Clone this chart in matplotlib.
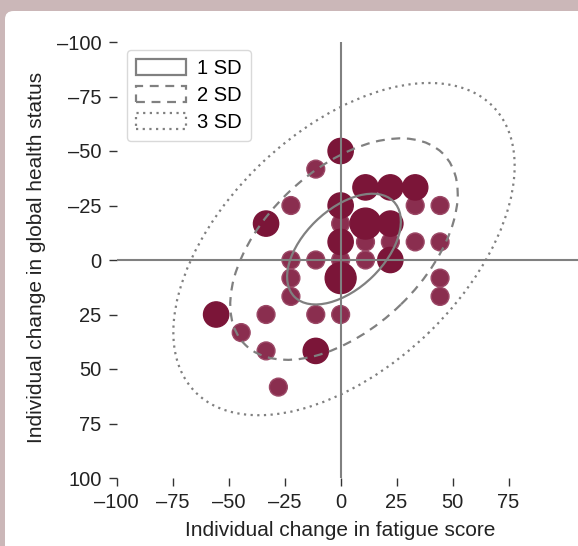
import numpy as np
import matplotlib
matplotlib.use("Agg")
import matplotlib.pyplot as plt
from matplotlib.patches import Ellipse, Patch, FancyBboxPatch

plt.rcParams['font.family'] = ['Liberation Sans', 'DejaVu Sans']

# change in fatigue score (x), change in global health status (y), number of patients at that point
fatigue = [0, -11.1, 11.1, 22.2, 33.3, -33.3, -22.2, 0, 33.3, 44.4,
           0, 11.1, 22.2, 0, 11.1, 22.2, 33.3, 44.4, -22.2, -11.1,
           0, 11.1, 22.2, 0, -22.2, -22.2, 44.4, 44.4, -55.6, -33.3,
           -11.1, 0, -44.4, -33.3, -11.1, -27.8]
health = [-50, -41.7, -33.3, -33.3, -33.3, -16.7, -25, -25, -25, -25,
          -16.7, -16.7, -16.7, -8.3, -8.3, -8.3, -8.3, -8.3, 0, 0,
          0, 0, 0, 8.3, 8.3, 16.7, 8.3, 16.7, 25, 25,
          25, 25, 33.3, 41.7, 41.7, 58.3]
counts = [2, 1, 2, 2, 2, 2, 1, 2, 1, 1,
          1, 3, 2, 2, 1, 1, 1, 1, 1, 1,
          1, 1, 2, 3, 1, 1, 1, 1, 2, 1,
          1, 1, 1, 1, 2, 1]

# bivariate normal summary used for the SD ellipses
mean_x, mean_y = 1.5, -5.0
sd_x, sd_y = 25.4, 25.4
rho = -0.5
sd_levels = [1, 2, 3]
sd_labels = ['1 SD', '2 SD', '3 SD']
sd_styles = ['-', (0, (4, 3)), (0, (1, 2))]

xticks = [-100, -75, -50, -25, 0, 25, 50, 75]
yticks = [-100, -75, -50, -25, 0, 25, 50, 75, 100]

grey = '#808080'
fig = plt.figure(figsize=(5.78, 5.46), dpi=100)
fig.patch.set_facecolor('#cbb7b8')
panel = FancyBboxPatch((5 / 578, -0.05), 1.2, (546 - 11) / 546 + 0.05,
                       boxstyle='round,pad=0,rounding_size=0.015',
                       transform=fig.transFigure, facecolor='white',
                       edgecolor='none', zorder=-5)
fig.patches.append(panel)

ax = fig.add_axes([116.7 / 578, (546 - 478) / 546, 1 - 116.7 / 578, (478 - 42) / 546])
ax.set_facecolor('none')
ax.set_zorder(2)

# points, smaller ones first so bigger ones sit on top
order = np.argsort(counts, kind='stable')
fx = np.array(fatigue)[order]
hy = np.array(health)[order]
nn = np.array(counts)[order]
face = ['#8a2e4f' if n == 1 else '#7b1538' for n in nn]
edge = ['#9b4866' if n == 1 else '#7b1538' for n in nn]
ax.scatter(fx, hy, s=165 * nn, c=face, edgecolors=edge, linewidths=1.0, zorder=2)

# zero lines
ax.axhline(0, color=grey, lw=1.5, zorder=3)
ax.plot([0, 0], [-100, 100], color=grey, lw=1.5, zorder=3)

# SD ellipses
cov = np.array([[sd_x ** 2, rho * sd_x * sd_y], [rho * sd_x * sd_y, sd_y ** 2]])
vals, vecs = np.linalg.eigh(cov)
angle = np.degrees(np.arctan2(vecs[1, 1], vecs[0, 1]))
handles = []
for k, lab, ls in zip(sd_levels, sd_labels, sd_styles):
    e = Ellipse((mean_x, mean_y), 2 * k * np.sqrt(vals[1]), 2 * k * np.sqrt(vals[0]),
                angle=angle, fill=False, edgecolor=grey, lw=1.6, linestyle=ls, zorder=4)
    ax.add_patch(e)
    handles.append(Patch(facecolor='none', edgecolor=grey, lw=1.6, linestyle=ls, label=lab))

ax.set_xlim(-100, 106)
ax.set_ylim(100, -100)
for s in ax.spines.values():
    s.set_visible(False)
ax.set_xticks(xticks)
ax.set_yticks(yticks)
ax.tick_params(axis='both', direction='out', length=6, width=1.0, color='#333333',
               labelsize=14.5, labelcolor='#222222', pad=5)
ax.set_xticklabels([str(t).replace('-', '\u2013') for t in xticks])
ax.set_yticklabels([str(t).replace('-', '\u2013') for t in yticks])

leg = ax.legend(handles=handles, loc='upper left', bbox_to_anchor=(10 / 461, 1 - 8 / 436),
                borderaxespad=0, fontsize=14.5, frameon=True, fancybox=True, handlelength=2.5,
                handleheight=0.85, handletextpad=0.55, borderpad=0.45, labelspacing=0.4)
leg.get_frame().set_edgecolor('#d0d0d0')
leg.get_frame().set_linewidth(1.0)

fig.text(340 / 578, 15 / 546, 'Individual change in fatigue score', ha='center', va='center',
         fontsize=15, color='#222222')
fig.text(37 / 578, (546 - 257) / 546, 'Individual change in global health status', ha='center',
         va='center', rotation=90, fontsize=15, color='#222222')

fig.savefig('out.png', dpi=100)
